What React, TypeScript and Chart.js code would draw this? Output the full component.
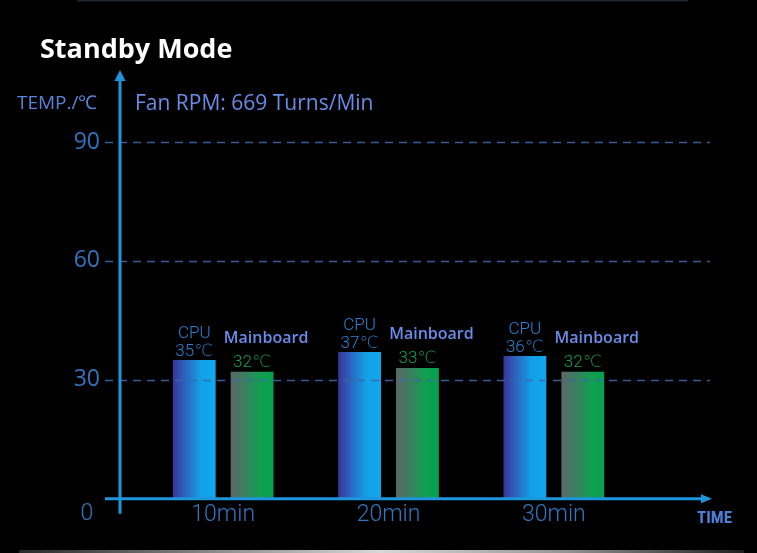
import React, { useEffect, useRef } from "react";
import { Chart, registerables } from "chart.js";

Chart.register(...registerables);

// ---- data ----
const categories = ["10min", "20min", "30min"];
const cpuTemps = [35, 37, 36];
const boardTemps = [32, 33, 32];
const yTickValues = [0, 30, 60, 90];
const seriesNames = ["CPU", "Mainboard"];
const titleText = "Standby Mode";
const yAxisTitle = "TEMP./℃";
const fanText = "Fan RPM: 669 Turns/Min";
const xAxisTitle = "TIME";
const unit = "℃";

// ---- styles ----
const AXIS_BLUE = "#1e96dc";
const GRID_BLUE = "rgba(62,102,168,0.9)";
const TICK_BLUE = "#3274be";
const CPU_TEXT = "#2a82d2";
const BOARD_TEXT = "#6a8cea";
const BOARD_VALUE = "#17a048";
const NARROW = '"Liberation Sans Narrow", "Roboto Condensed", Roboto, sans-serif';

const cpuStops: [number, string][] = [
  [0, "#3a3498"],
  [0.3, "#2b66c0"],
  [0.65, "#12a0e6"],
  [1, "#0ea8ee"],
];
const boardStops: [number, string][] = [
  [0, "#5c6868"],
  [0.35, "#3a8060"],
  [0.7, "#10a050"],
  [1, "#05a050"],
];

// horizontal gradient across each bar, built once the bar has a position
function barGradient(stops: [number, string][], fallback: string) {
  return (ctx: any) => {
    const el = ctx.element;
    if (!el || typeof el.x !== "number" || !el.width) return fallback;
    const g = ctx.chart.ctx.createLinearGradient(el.x - el.width / 2, 0, el.x + el.width / 2, 0);
    stops.forEach(([o, c]) => g.addColorStop(o, c));
    return g;
  };
}

const decor = {
  id: "decor",
  beforeDraw(chart: any) {
    const { ctx, width, height } = chart;
    ctx.save();
    ctx.fillStyle = "#000";
    ctx.fillRect(0, 0, width, height);
    // thin frame line at the top
    ctx.fillStyle = "#1f2633";
    ctx.fillRect(77, 0, 611, 1.5);
    // silver strip at the bottom
    const g = ctx.createLinearGradient(19, 0, 744, 0);
    g.addColorStop(0, "rgba(40,40,40,1)");
    g.addColorStop(0.3, "rgba(150,150,150,1)");
    g.addColorStop(0.5, "rgba(215,215,215,1)");
    g.addColorStop(0.75, "rgba(150,150,150,1)");
    g.addColorStop(1, "rgba(30,30,30,1)");
    ctx.fillStyle = g;
    ctx.fillRect(19, 550, 725, 3);
    ctx.restore();
  },
  afterDatasetsDraw(chart: any) {
    const { ctx, chartArea, scales } = chart;
    const ys = scales.y;
    const lineLeft = chartArea.left - 35.5;
    const lineRight = chartArea.right + 75.5;
    const y0 = ys.getPixelForValue(0);
    const axisX = chartArea.left - 20.5;

    ctx.save();
    // dashed guide lines
    ctx.strokeStyle = GRID_BLUE;
    ctx.lineWidth = 1.5;
    ctx.setLineDash([8, 6]);
    yTickValues.filter((v) => v > 0).forEach((v) => {
      const y = Math.round(ys.getPixelForValue(v)) + 0.5;
      ctx.beginPath();
      ctx.moveTo(lineLeft, y);
      ctx.lineTo(lineRight - 2, y);
      ctx.stroke();
    });
    ctx.setLineDash([]);

    // axes with arrowheads
    ctx.strokeStyle = AXIS_BLUE;
    ctx.fillStyle = AXIS_BLUE;
    ctx.lineWidth = 3;
    ctx.beginPath();
    ctx.moveTo(lineLeft, y0);
    ctx.lineTo(lineRight - 8, y0);
    ctx.stroke();
    ctx.beginPath();
    ctx.moveTo(lineRight, y0);
    ctx.lineTo(lineRight - 11, y0 - 4.5);
    ctx.lineTo(lineRight - 11, y0 + 4.5);
    ctx.closePath();
    ctx.fill();

    const topY = chartArea.top - 72;
    ctx.beginPath();
    ctx.moveTo(axisX, y0 + 15);
    ctx.lineTo(axisX, topY + 8);
    ctx.stroke();
    ctx.beginPath();
    ctx.moveTo(axisX, topY);
    ctx.lineTo(axisX - 5.5, topY + 11);
    ctx.lineTo(axisX + 5.5, topY + 11);
    ctx.closePath();
    ctx.fill();

    // labels over the bars
    const cpuMeta = chart.getDatasetMeta(0);
    const boardMeta = chart.getDatasetMeta(1);
    ctx.textAlign = "center";
    ctx.textBaseline = "middle";
    categories.forEach((_, i) => {
      const c = cpuMeta.data[i];
      const b = boardMeta.data[i];
      ctx.font = '300 17px Roboto, "DejaVu Sans", sans-serif';
      ctx.fillStyle = CPU_TEXT;
      ctx.fillText(seriesNames[0], c.x, c.y - 26);
      ctx.fillText(`${cpuTemps[i]}${unit}`, c.x, c.y - 8.5);
      ctx.fillStyle = BOARD_VALUE;
      ctx.fillText(`${boardTemps[i]}${unit}`, b.x, b.y - 9);
      ctx.font = '600 16px "Open Sans", sans-serif';
      ctx.fillStyle = BOARD_TEXT;
      ctx.fillText(seriesNames[1], b.x + 14, b.y - 33);
    });

    // zero label under the origin
    ctx.font = `300 23px Roboto, sans-serif`;
    ctx.fillStyle = TICK_BLUE;
    ctx.fillText(String(yTickValues[0]), axisX - 33, y0 + 16);

    // titles
    ctx.textAlign = "left";
    ctx.fillStyle = "#ffffff";
    ctx.font = '700 27px "Open Sans", sans-serif';
    ctx.fillText(titleText, 40, 50);
    ctx.fillStyle = "#5a82d8";
    ctx.font = '400 19px "Open Sans", sans-serif';
    ctx.fillText(yAxisTitle, 17, 104);
    ctx.fillStyle = "#6a8ce6";
    ctx.font = '400 21px "Open Sans", sans-serif';
    ctx.fillText(fanText, 135, 104);
    ctx.fillStyle = "#4a80da";
    ctx.font = `700 17px ${NARROW}`;
    ctx.fillText(xAxisTitle, 697, y0 + 20);
    ctx.restore();
  },
};

export default function App() {
  const ref = useRef<HTMLCanvasElement | null>(null);

  useEffect(() => {
    if (!ref.current) return;
    const chart = new Chart(ref.current, {
      type: "bar",
      data: {
        labels: categories,
        datasets: [
          {
            label: seriesNames[0],
            data: cpuTemps,
            backgroundColor: barGradient(cpuStops, "#1a8fe0"),
            borderWidth: 0,
            categoryPercentage: 0.7,
            barPercentage: 0.74,
          },
          {
            label: seriesNames[1],
            data: boardTemps,
            backgroundColor: barGradient(boardStops, "#10a050"),
            borderWidth: 0,
            categoryPercentage: 0.7,
            barPercentage: 0.74,
          },
        ],
      },
      options: {
        animation: false,
        responsive: false,
        events: [],
        layout: { padding: { left: 0, right: 120.5, top: 142, bottom: 14 } },
        plugins: {
          legend: { display: false },
          tooltip: { enabled: false },
          title: { display: false },
        },
        scales: {
          x: {
            offset: true,
            grid: { display: false, drawTicks: false },
            border: { display: false },
            ticks: {
              color: TICK_BLUE,
              font: { family: "Roboto", size: 23, weight: "300" as any },
              padding: 3,
            },
            afterFit: (s: any) => {
              s.height = 40;
            },
          },
          y: {
            min: 0,
            max: 90,
            afterBuildTicks: (s: any) => {
              s.ticks = yTickValues.map((v) => ({ value: v }));
            },
            grid: { display: false, drawTicks: false },
            border: { display: false },
            ticks: {
              color: TICK_BLUE,
              font: { family: "Open Sans", size: 23 },
              padding: 40.5,
              callback: (v: any) => (v === 0 ? "" : String(v)),
            },
            afterFit: (s: any) => {
              s.width = 140.5;
            },
          },
        },
      },
      plugins: [decor],
    });
    // second pass so each bar's gradient follows its own position
    chart.update();
    return () => chart.destroy();
  }, []);

  return (
    <div style={{ position: "fixed", left: 0, top: 0, width: 757, height: 553, background: "#000" }}>
      <canvas ref={ref} width={757} height={553} style={{ display: "block" }} />
    </div>
  );
}
